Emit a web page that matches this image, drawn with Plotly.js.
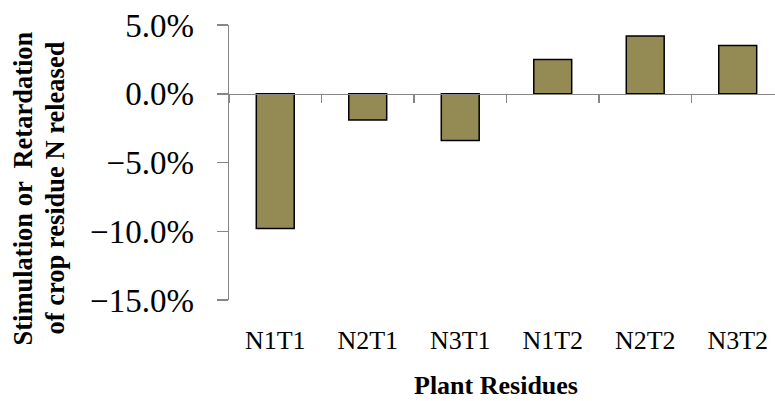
<!DOCTYPE html>
<html>
<head>
<meta charset="utf-8">
<script src="https://cdn.plot.ly/plotly-3.0.1.min.js"></script>
<style>html,body{margin:0;padding:0;background:#fff;}#chart{width:775px;height:401px;}</style>
</head>
<body>
<div id="chart"></div>
<script>
const categories = ["N1T1", "N2T1", "N3T1", "N1T2", "N2T2", "N3T2"];
const values = [-0.098, -0.019, -0.034, 0.025, 0.042, 0.035];
const yTickVals = [0.05, 0.0, -0.05, -0.10, -0.15];
const xTitle = "Plant Residues";
const yTitleLines = ["Stimulation or  Retardation", "of crop residue N released"];

const serif = "'Liberation Serif', 'Times New Roman', Times, serif";

const W = 775, H = 401;
const M = {l: 229, r: 0, t: 25, b: 101};
const plotW = W - M.l - M.r, plotH = H - M.t - M.b;
const px2paperX = px => (px - M.l) / plotW;
const px2paperY = py => (H - M.b - py) / plotH;

const traces = [
  {
    type: "bar",
    x: categories,
    y: values,
    xaxis: "x",
    yaxis: "y",
    width: 0.41,
    marker: {color: "#948A54", line: {color: "#000000", width: 1.5}},
    hoverinfo: "skip"
  },
  {
    type: "scatter",
    mode: "markers",
    x: categories,
    y: values,
    xaxis: "x2",
    yaxis: "y",
    marker: {opacity: 0},
    hoverinfo: "skip",
    showlegend: false
  }
];

const yMin = -0.15, yMax = 0.05;
const zeroPos = (0 - yMin) / (yMax - yMin);

const titleFont = {family: serif, size: 26, color: "#000", weight: "bold"};

const layout = {
  width: W,
  height: H,
  margin: {l: M.l, r: M.r, t: M.t, b: M.b, pad: 0},
  paper_bgcolor: "#ffffff",
  plot_bgcolor: "#ffffff",
  font: {family: serif, color: "#000"},
  showlegend: false,
  xaxis: {
    type: "category",
    range: [-0.5, 5.403],
    showline: false,
    showgrid: false,
    zeroline: false,
    ticks: "outside",
    ticklen: 17,
    tickcolor: "rgba(0,0,0,0)",
    tickfont: {family: serif, size: 26, color: "#000"},
    automargin: false,
    fixedrange: true
  },
  xaxis2: {
    type: "category",
    overlaying: "x",
    matches: "x",
    anchor: "free",
    position: zeroPos,
    range: [-0.5, 5.403],
    showline: true,
    linecolor: "#868686",
    linewidth: 1.5,
    showgrid: false,
    zeroline: false,
    showticklabels: false,
    ticks: "outside",
    tickson: "boundaries",
    ticklen: 8,
    tickwidth: 1.5,
    tickcolor: "#868686",
    automargin: false,
    fixedrange: true
  },
  yaxis: {
    range: [yMin, yMax],
    tickvals: yTickVals,
    tickformat: ".1%",
    showline: true,
    linecolor: "#868686",
    linewidth: 1.5,
    showgrid: false,
    zeroline: false,
    ticks: "outside",
    ticklen: 11,
    tickwidth: 1.5,
    tickcolor: "#868686",
    tickfont: {family: serif, size: 33, color: "#000"},
    ticklabelstandoff: 16,
    automargin: false,
    fixedrange: true
  },
  annotations: [
    {
      text: xTitle, showarrow: false, xref: "paper", yref: "paper",
      x: px2paperX(496), y: px2paperY(385), xanchor: "center", yanchor: "middle",
      font: titleFont
    },
    {
      text: yTitleLines[0], showarrow: false, xref: "paper", yref: "paper", textangle: -90,
      x: px2paperX(23), y: px2paperY(188.5), xanchor: "center", yanchor: "middle",
      font: Object.assign({}, titleFont, {size: 26.5})
    },
    {
      text: yTitleLines[1], showarrow: false, xref: "paper", yref: "paper", textangle: -90,
      x: px2paperX(55), y: px2paperY(188.5), xanchor: "center", yanchor: "middle",
      font: Object.assign({}, titleFont, {size: 26.5})
    }
  ]
};

Plotly.newPlot("chart", traces, layout, {displayModeBar: false, staticPlot: true});
</script>
</body>
</html>
